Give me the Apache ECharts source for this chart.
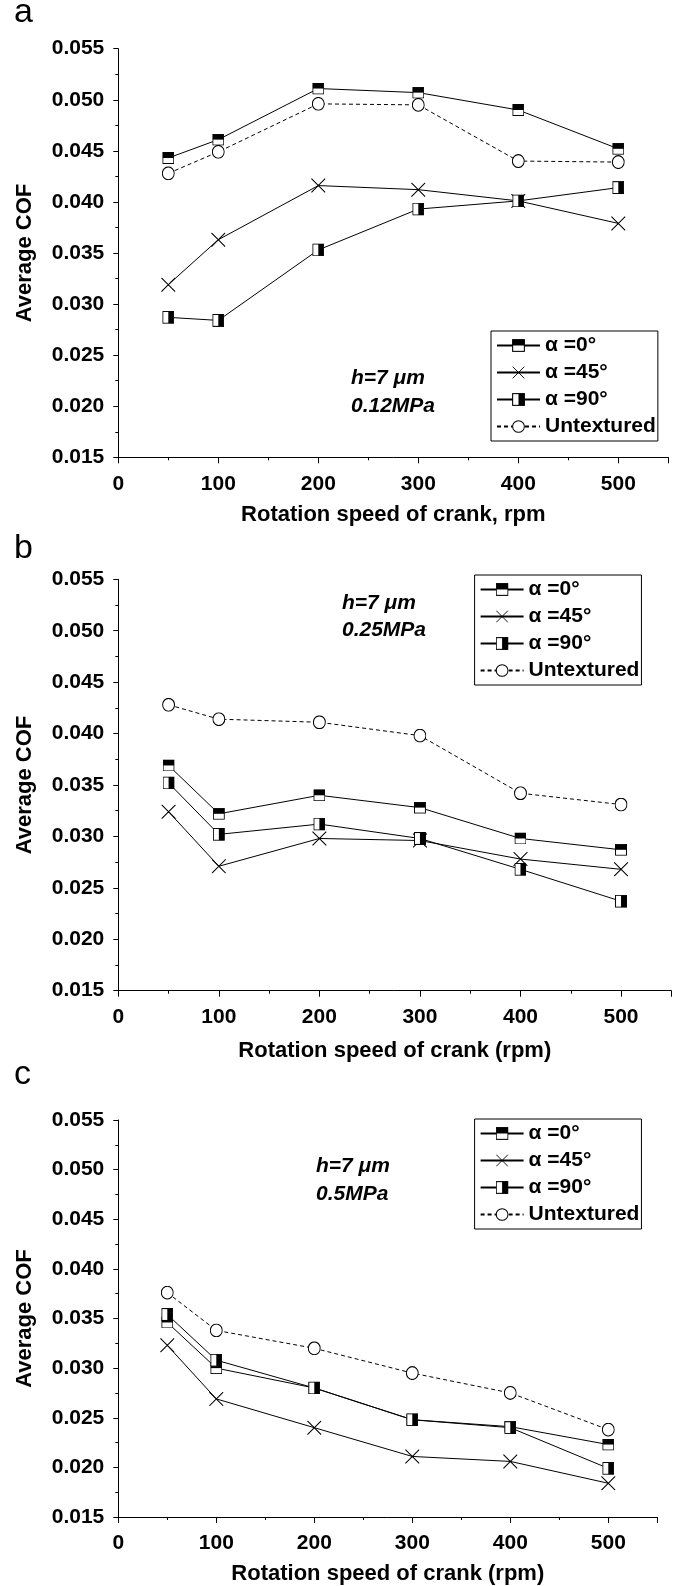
<!DOCTYPE html>
<html>
<head>
<meta charset="utf-8">
<script src="https://cdn.jsdelivr.net/npm/echarts@6/dist/echarts.min.js"></script>
<style>
html,body{margin:0;padding:0;background:#fff;}
#chart{width:675px;height:1586px;}
</style>
</head>
<body>
<div id="chart"></div>
<script>
// ---- data ----
const speeds = [50, 100, 200, 300, 400, 500];
const seriesNames = ['α =0°', 'α =45°', 'α =90°', 'Untextured'];
const panelLabels = ['a', 'b', 'c'];
const pressures = ['0.12MPa', '0.25MPa', '0.5MPa'];
const depthLabel = 'h=7 μm';
const xTitles = ['Rotation speed of crank, rpm', 'Rotation speed of crank (rpm)', 'Rotation speed of crank (rpm)'];
const yTitle = 'Average COF';

// panel a: 0.12 MPa
const a_alpha0  = [0.0443, 0.0461, 0.0511, 0.0507, 0.0490, 0.0452];
const a_alpha45 = [0.0319, 0.0363, 0.0416, 0.0412, 0.0401, 0.0379];
const a_alpha90 = [0.0287, 0.0284, 0.0353, 0.0393, 0.0401, 0.0414];
const a_untex   = [0.0428, 0.0449, 0.0496, 0.0495, 0.0440, 0.0439];
// panel b: 0.25 MPa
const b_alpha0  = [0.0369, 0.0322, 0.0340, 0.0328, 0.0298, 0.0287];
const b_alpha45 = [0.0324, 0.0271, 0.0298, 0.0296, 0.0278, 0.0268];
const b_alpha90 = [0.0352, 0.0302, 0.0312, 0.0298, 0.0268, 0.0237];
const b_untex   = [0.0428, 0.0414, 0.0411, 0.0398, 0.0342, 0.0331];
// panel c: 0.5 MPa
const c_alpha0  = [0.0346, 0.0300, 0.0280, 0.0248, 0.0241, 0.0223];
const c_alpha45 = [0.0323, 0.0269, 0.0240, 0.0211, 0.0206, 0.0184];
const c_alpha90 = [0.0354, 0.0308, 0.0280, 0.0248, 0.0240, 0.0199];
const c_untex   = [0.0376, 0.0338, 0.0320, 0.0295, 0.0275, 0.0238];

const panels = [
  [a_alpha0, a_alpha45, a_alpha90, a_untex],
  [b_alpha0, b_alpha45, b_alpha90, b_untex],
  [c_alpha0, c_alpha45, c_alpha90, c_untex]
];

// ---- styling / layout ----
const FONT = "'Liberation Sans', Arial, Helvetica, sans-serif";
const svgUri = s => 'image://data:image/svg+xml;charset=utf-8,' + encodeURIComponent(s);
const SYM_TOP = svgUri("<svg xmlns='http://www.w3.org/2000/svg' width='24' height='24' viewBox='0 0 24 24'><rect x='1' y='1' width='22' height='22' fill='white' stroke='black' stroke-width='2'/><rect x='1' y='1' width='22' height='11' fill='black'/></svg>");
const SYM_RIGHT = svgUri("<svg xmlns='http://www.w3.org/2000/svg' width='24' height='24' viewBox='0 0 24 24'><rect x='1' y='1' width='22' height='22' fill='white' stroke='black' stroke-width='2'/><rect x='12' y='1' width='11' height='22' fill='black'/></svg>");
const SYM_X = svgUri("<svg xmlns='http://www.w3.org/2000/svg' width='24' height='24' viewBox='0 0 24 24'><path d='M1,1L23,23M23,1L1,23' stroke='black' stroke-width='1.7' fill='none'/></svg>");
const SYM_O = svgUri("<svg xmlns='http://www.w3.org/2000/svg' width='24' height='24' viewBox='0 0 24 24'><ellipse cx='12' cy='12' rx='11' ry='11' fill='white' stroke='black' stroke-width='1.9'/></svg>");
const symbols = [SYM_TOP, SYM_X, SYM_RIGHT, SYM_O];
const symSizes = [[12, 12], [15, 15], [12, 13], [13, 14]];

const grids = [
  {left: 118.3, top: 48.7, width: 550, height: 408.6},
  {left: 118.3, top: 579.3, width: 553, height: 411.4},
  {left: 118.3, top: 1120, width: 539, height: 400}
];
const legendPos = [{left: 491, top: 331}, {left: 474.6, top: 575}, {left: 474.6, top: 1119}];
const annotPos = [{x: 351, y1: 378, y2: 406}, {x: 342, y1: 603, y2: 630}, {x: 316, y1: 1166, y2: 1194}];
const labelPos = [{x: 14, y: 15}, {x: 14, y: 551}, {x: 14, y: 1077}];
const xNameGap = [47, 49, 46];

const xAxes = [], yAxes = [], series = [], legends = [], graphics = [];
grids.forEach((g, p) => {
  xAxes.push({
    type: 'value', gridIndex: p, min: 0, max: 550, interval: 100,
    name: xTitles[p], nameLocation: 'middle', nameGap: xNameGap[p],
    nameTextStyle: {fontFamily: FONT, fontWeight: 'bold', fontSize: 22, color: '#000'},
    axisLine: {show: true, onZero: false, lineStyle: {color: '#000', width: 1}},
    axisTick: {show: true, inside: false, length: 6, lineStyle: {color: '#000'}},
    minorTick: {show: true, splitNumber: 2, length: 3, lineStyle: {color: '#000'}},
    splitLine: {show: false},
    axisLabel: {fontFamily: FONT, fontWeight: 'bold', fontSize: 21, color: '#000', margin: 16, showMaxLabel: false}
  });
  yAxes.push({
    type: 'value', gridIndex: p, min: 0.015, max: 0.055, interval: 0.005,
    name: yTitle, nameLocation: 'middle', nameGap: 82,
    nameTextStyle: {fontFamily: FONT, fontWeight: 'bold', fontSize: 22, color: '#000'},
    axisLine: {show: true, onZero: false, lineStyle: {color: '#000', width: 1}},
    axisTick: {show: true, inside: false, length: 5, lineStyle: {color: '#000'}},
    minorTick: {show: true, splitNumber: 2, length: 3, lineStyle: {color: '#000'}},
    splitLine: {show: false},
    axisLabel: {fontFamily: FONT, fontWeight: 'bold', fontSize: 21, color: '#000', margin: 14,
      formatter: v => v.toFixed(3)}
  });
  panels[p].forEach((vals, k) => {
    series.push({
      type: 'line', name: seriesNames[k], xAxisIndex: p, yAxisIndex: p,
      data: speeds.map((s, i) => [s, vals[i]]),
      symbol: symbols[k], symbolSize: symSizes[k], symbolKeepAspect: false,
      showAllSymbol: true,
      lineStyle: {color: '#000', width: 1, type: k === 3 ? [4, 3] : 'solid'},
      itemStyle: {color: '#000'},
      emphasis: {disabled: true},
      z: 2 + k
    });
  });
  legends.push({
    orient: 'vertical', left: legendPos[p].left, top: legendPos[p].top,
    itemWidth: 43, itemHeight: 16, itemGap: 6,
    padding: [4, 2, 4, 5],
    borderColor: '#000', borderWidth: 1, backgroundColor: '#fff',
    selectedMode: false,
    textStyle: {fontFamily: FONT, fontWeight: 'bold', fontSize: 21, color: '#000', lineHeight: 20},
    data: seriesNames
  });
  graphics.push({
    type: 'text', left: labelPos[p].x, top: labelPos[p].y - 19,
    style: {text: panelLabels[p], font: "normal 34px " + FONT, fill: '#000'}
  });
  graphics.push({
    type: 'text', x: annotPos[p].x, y: annotPos[p].y1,
    style: {text: depthLabel, font: "italic bold 21px " + FONT, fill: '#000', verticalAlign: 'middle', align: 'left'}
  });
  graphics.push({
    type: 'text', x: annotPos[p].x, y: annotPos[p].y2,
    style: {text: pressures[p], font: "italic bold 21px " + FONT, fill: '#000', verticalAlign: 'middle', align: 'left'}
  });
});

const chart = echarts.init(document.getElementById('chart'), null, {renderer: 'canvas'});
chart.setOption({
  animation: false,
  backgroundColor: '#fff',
  grid: grids,
  xAxis: xAxes,
  yAxis: yAxes,
  legend: legends,
  series: series,
  graphic: graphics
});
</script>
</body>
</html>
